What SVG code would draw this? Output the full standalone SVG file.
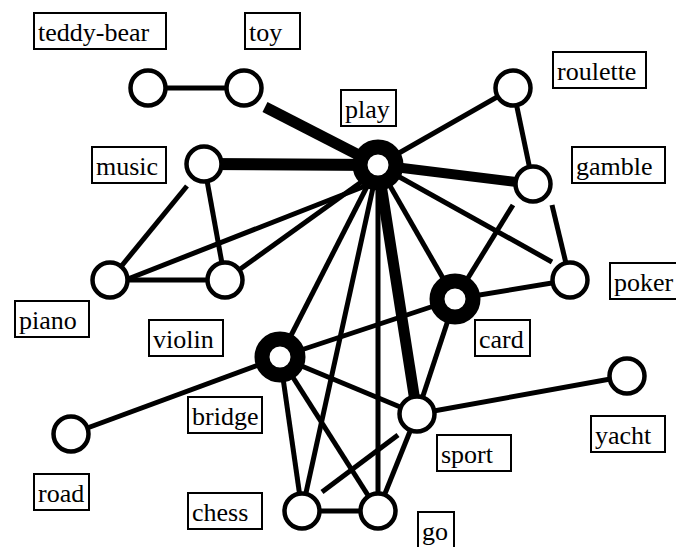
<svg xmlns="http://www.w3.org/2000/svg" width="676" height="547" viewBox="0 0 676 547">
<style>
.e{stroke:#000;stroke-width:5;fill:none}
.w10{stroke-width:10}
.w11{stroke-width:11}
.w12{stroke-width:12}
.n{fill:#fff;stroke:#000;stroke-width:4.5}
.h{fill:#fff;stroke:#000;stroke-width:15}
.b{fill:#fff;stroke:#000;stroke-width:2}
text{font-family:'Liberation Serif','Times New Roman','DejaVu Serif',serif;font-size:26px;fill:#000}
</style>
<rect width="676" height="547" fill="#fff"/>
<g id="edges">
<line class="e" x1="148" y1="88" x2="244" y2="88"/>
<line class="e w11" x1="265" y1="107" x2="378" y2="165"/>
<line class="e w12" x1="204" y1="164" x2="378" y2="165"/>
<line class="e" x1="378" y1="165" x2="513" y2="88"/>
<line class="e w10" x1="378" y1="165" x2="533" y2="184"/>
<line class="e" x1="513" y1="88" x2="533" y2="184"/>
<line class="e" x1="378" y1="165" x2="552" y2="262"/>
<line class="e" x1="552" y1="205" x2="570" y2="280"/>
<line class="e" x1="513" y1="205" x2="455" y2="299"/>
<line class="e" x1="378" y1="165" x2="455" y2="299"/>
<line class="e w11" x1="378" y1="165" x2="417" y2="414"/>
<line class="e" x1="378" y1="165" x2="378" y2="511"/>
<line class="e" x1="378" y1="165" x2="302" y2="511"/>
<line class="e" x1="378" y1="165" x2="280" y2="357"/>
<line class="e" x1="110" y1="286" x2="378" y2="181"/>
<line class="e" x1="225" y1="280" x2="378" y2="170"/>
<line class="e" x1="187" y1="186" x2="110" y2="280"/>
<line class="e" x1="204" y1="164" x2="225" y2="280"/>
<line class="e" x1="110" y1="280" x2="225" y2="280"/>
<line class="e" x1="455" y1="299" x2="570" y2="280"/>
<line class="e" x1="455" y1="299" x2="280" y2="357"/>
<line class="e" x1="455" y1="299" x2="417" y2="414"/>
<line class="e" x1="280" y1="357" x2="71" y2="434"/>
<line class="e" x1="280" y1="357" x2="302" y2="511"/>
<line class="e" x1="280" y1="357" x2="378" y2="511"/>
<line class="e" x1="280" y1="357" x2="417" y2="414"/>
<line class="e" x1="302" y1="511" x2="378" y2="511"/>
<line class="e" x1="322" y1="492" x2="398" y2="435"/>
<line class="e" x1="378" y1="511" x2="417" y2="414"/>
<line class="e" x1="417" y1="414" x2="627" y2="376"/>
</g>
<g id="teddy-bear"><circle class="n" cx="148" cy="88" r="17.5"/><rect class="b" x="34" y="13" width="132" height="36"/><text x="38" y="41">teddy-bear</text></g>
<g id="toy"><circle class="n" cx="244" cy="88" r="17.5"/><rect class="b" x="245" y="13" width="55" height="36"/><text x="249" y="41">toy</text></g>
<g id="music"><circle class="n" cx="204" cy="164" r="17.5"/><rect class="b" x="92" y="147" width="74" height="36"/><text x="96" y="175">music</text></g>
<g id="play"><circle class="h" cx="378" cy="165" r="18"/><rect class="b" x="341" y="90" width="55" height="36"/><text x="345" y="118">play</text></g>
<g id="roulette"><circle class="n" cx="513" cy="88" r="17.5"/><rect class="b" x="553" y="52" width="93" height="36"/><text x="557" y="80">roulette</text></g>
<g id="gamble"><circle class="n" cx="533" cy="184" r="17.5"/><rect class="b" x="572" y="147" width="93" height="36"/><text x="576" y="175">gamble</text></g>
<g id="piano"><circle class="n" cx="110" cy="280" r="17.5"/><rect class="b" x="15" y="301" width="74" height="36"/><text x="19" y="329">piano</text></g>
<g id="violin"><circle class="n" cx="225" cy="280" r="17.5"/><rect class="b" x="149" y="320" width="74" height="36"/><text x="153" y="348">violin</text></g>
<g id="poker"><circle class="n" cx="570" cy="280" r="17.5"/><rect class="b" x="610" y="263" width="74" height="36"/><text x="614" y="291">poker</text></g>
<g id="card"><circle class="h" cx="455" cy="299" r="18"/><rect class="b" x="475" y="320" width="55" height="36"/><text x="479" y="348">card</text></g>
<g id="bridge"><circle class="h" cx="280" cy="357" r="18"/><rect class="b" x="188" y="397" width="74" height="36"/><text x="192" y="425">bridge</text></g>
<g id="road"><circle class="n" cx="71" cy="434" r="17.5"/><rect class="b" x="34" y="474" width="55" height="36"/><text x="38" y="502">road</text></g>
<g id="chess"><circle class="n" cx="302" cy="511" r="17.5"/><rect class="b" x="188" y="493" width="74" height="36"/><text x="192" y="521">chess</text></g>
<g id="go"><circle class="n" cx="378" cy="511" r="17.5"/><rect class="b" x="418" y="512" width="36" height="36"/><text x="422" y="540">go</text></g>
<g id="sport"><circle class="n" cx="417" cy="414" r="17.5"/><rect class="b" x="437" y="435" width="74" height="36"/><text x="441" y="463">sport</text></g>
<g id="yacht"><circle class="n" cx="627" cy="376" r="17.5"/><rect class="b" x="591" y="416" width="74" height="36"/><text x="595" y="444">yacht</text></g>
</svg>
